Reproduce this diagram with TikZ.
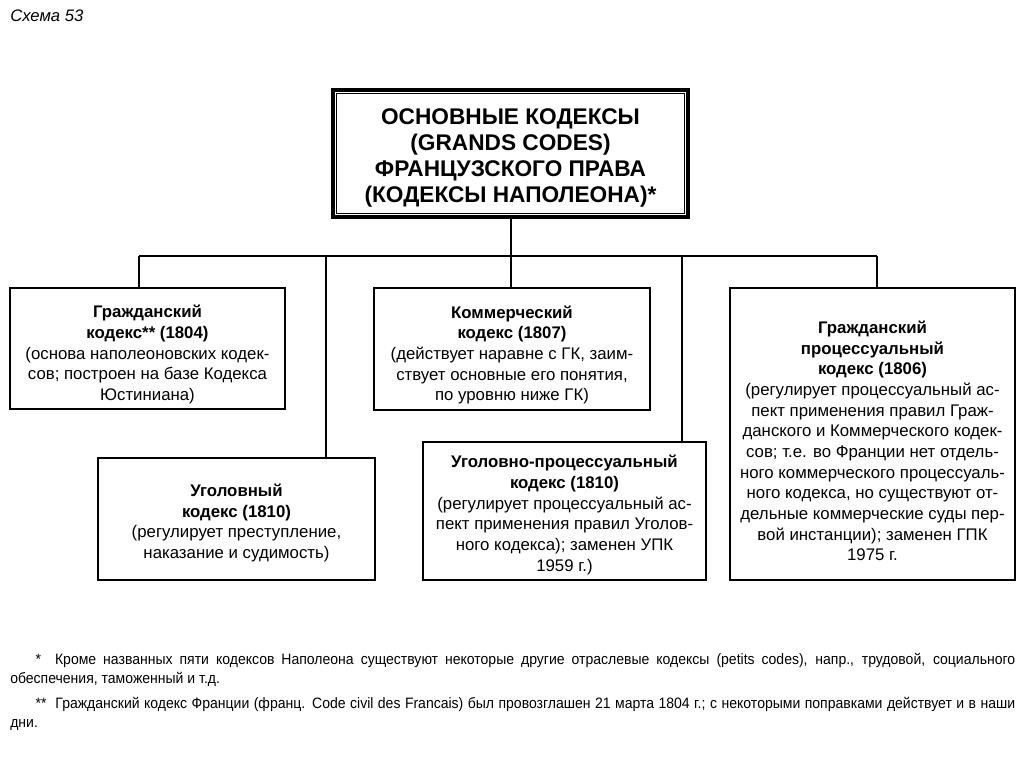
\documentclass[tikz,border=0pt]{standalone}
\usepackage{fontspec}
\setmainfont{Liberation Sans}
\newfontfamily\narrowfont[FakeStretch=0.93]{Liberation Sans}
\begin{document}
\begin{tikzpicture}[x=0.75pt,y=-0.75pt,
  wh/.style 2 args={minimum width=#1*0.75pt,minimum height=#2*0.75pt},
  box/.style={draw,line width=1.3pt,inner sep=0pt},
  boxtext/.style={align=center,inner sep=0pt,
    font=\fontsize{12.6}{15.5}\selectfont},
  hdrbox/.style={draw,line width=3.2pt,inner sep=0pt},
  hdrtext/.style={align=center,inner sep=0pt,
    font=\bfseries\fontsize{17}{19.5}\selectfont},
  link/.style={line width=1.4pt},
  note/.style={anchor=north west,inner sep=0pt,align=justify,
    text width=1005*0.75pt,font=\narrowfont\fontsize{11.3}{14.25}\selectfont}]
\useasboundingbox (0,0) rectangle (1024,767);

\node[anchor=west,inner sep=0pt,font=\itshape\fontsize{12.5}{14}\selectfont] (title) at (10,16) {Схема 53};

% header
\node[hdrbox,wh={355}{127}] (hdr) at (510.5,153.5) {};
\draw[line width=0.9pt] ([shift={(6,6)}]hdr.north west) rectangle ([shift={(-6,-6)}]hdr.south east);
\node[hdrtext] (hdrt) at ([shift={(0,4)}]hdr.center)
  {ОСНОВНЫЕ КОДЕКСЫ\\(GRANDS CODES)\\ФРАНЦУЗСКОГО ПРАВА\\(КОДЕКСЫ НАПОЛЕОНА)*};

% boxes
\node[box,wh={275}{121}] (gk) at (147.5,348.5) {};
\node[boxtext] (gkt) at ([shift={(0,6)}]gk.center)
  {\textbf{Гражданский}\\\textbf{кодекс** (1804)}\\(основа наполеоновских кодек-\\сов; построен на базе Кодекса\\Юстиниана)};
\node[box,wh={276}{122}] (kk) at (512,349) {};
\node[boxtext] (kkt) at ([shift={(0,6)}]kk.center)
  {\textbf{Коммерческий}\\\textbf{кодекс (1807)}\\(действует наравне с ГК, заим-\\ствует основные его понятия,\\по уровню ниже ГК)};
\node[box,wh={285}{292}] (gpk) at (872.5,434) {};
\node[boxtext] (gpkt) at ([shift={(0,7)}]gpk.center)
  {\textbf{Гражданский}\\\textbf{процессуальный}\\\textbf{кодекс (1806)}\\(регулирует процессуальный ас-\\пект применения правил Граж-\\данского и Коммерческого кодек-\\сов; т.е. во Франции нет отдель-\\ного коммерческого процессуаль-\\ного кодекса, но существуют от-\\дельные коммерческие суды пер-\\вой инстанции); заменен ГПК\\1975 г.};
\node[box,wh={277}{122}] (uk) at (236.5,519) {};
\node[boxtext] (ukt) at ([shift={(0,4)}]uk.center)
  {\textbf{Уголовный}\\\textbf{кодекс (1810)}\\(регулирует преступление,\\наказание и судимость)};
\node[box,wh={283}{138}] (upk) at (564.5,511) {};
\node[boxtext] (upkt) at ([shift={(0,4)}]upk.center)
  {\textbf{Уголовно-процессуальный}\\\textbf{кодекс (1810)}\\(регулирует процессуальный ас-\\пект применения правил Уголов-\\ного кодекса); заменен УПК\\1959 г.)};

% connectors
\coordinate (bc) at (511,256);
\coordinate (b1) at (139,256);
\coordinate (b2) at (326,256);
\coordinate (b4) at (682,256);
\coordinate (b5) at (877,256);
\draw[link] (hdr.south -| bc) -- (bc);
\draw[link] (b1) -- (b5);
\draw[link] (b1) -- (b1 |- gk.north);
\draw[link] (b2) -- (b2 |- uk.north);
\draw[link] (bc) -- (bc |- kk.north);
\draw[link] (b4) -- (b4 |- upk.north);
\draw[link] (b5) -- (b5 |- gpk.north);

% footnotes
\node[note] (fn1) at (10,653)
  {\hspace*{19pt}*\ \ Кроме названных пяти кодексов Наполеона существуют некоторые другие отраслевые кодексы (petits codes), напр., трудовой, социального\linebreak обеспечения, таможенный и т.д.};
\node[note] (fn2) at (10,697)
  {\hspace*{19pt}**\ \ Гражданский кодекс Франции (франц. Code civil des Francais) был провозглашен 21 марта 1804 г.; с некоторыми поправками действует и в наши\linebreak дни.};
\end{tikzpicture}
\end{document}
